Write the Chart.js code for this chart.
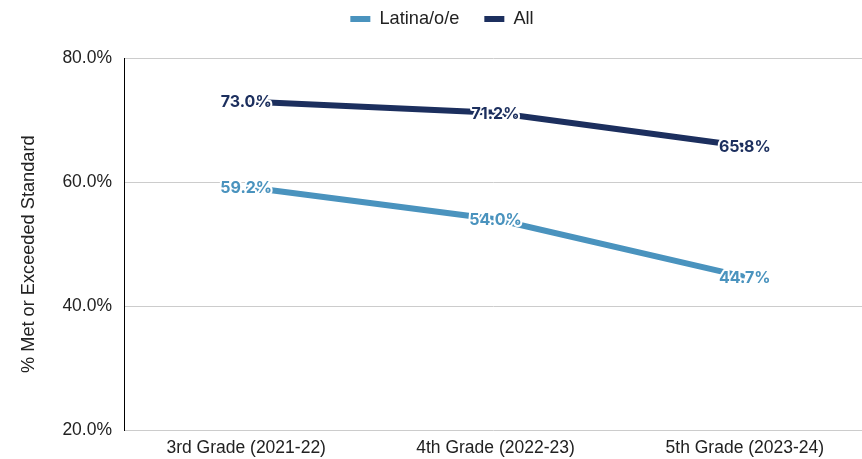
<!DOCTYPE html>
<html>
<head>
<meta charset="utf-8">
<script src="https://cdn.jsdelivr.net/npm/chart.js@4.4.1/dist/chart.umd.min.js"></script>
<style>
  html, body { margin: 0; padding: 0; background: #fff; overflow: hidden; }
  #wrap { width: 862px; height: 459px; }
</style>
</head>
<body>
<div id="wrap"><canvas id="chart-line"></canvas></div>
<script>
const grades = ['3rd Grade (2021-22)', '4th Grade (2022-23)', '5th Grade (2023-24)'];
const latinaValues = [59.2, 54.0, 44.7];
const allValues = [73.0, 71.2, 65.8];
const yTicks = [20, 40, 60, 80];

const axisFont = { family: '"Liberation Sans", Arial, sans-serif', size: 17.5 };

// value labels centred on each point, with a white halo
const valueLabels = {
  id: 'valueLabels',
  afterDatasetsDraw(chart) {
    const ctx = chart.ctx;
    ctx.save();
    ctx.font = 'bold 16px Inter, sans-serif';
    ctx.textAlign = 'center';
    ctx.textBaseline = 'middle';
    chart.data.datasets.forEach((ds, i) => {
      chart.getDatasetMeta(i).data.forEach((pt, j) => {
        const text = ds.data[j].y.toFixed(1) + '%';
        ctx.lineWidth = 4;
        ctx.strokeStyle = '#fff';
        ctx.lineJoin = 'round';
        ctx.strokeText(text, pt.x, pt.y + 1);
        ctx.fillStyle = ds.borderColor;
        ctx.fillText(text, pt.x, pt.y + 1);
      });
    });
    ctx.restore();
  }
};

// extra room under the legend, and nudge it a little right
const legendSpace = {
  id: 'legendSpace',
  beforeInit(chart) {
    const fit = chart.legend.fit;
    chart.legend.fit = function () {
      fit.call(this);
      this.height += 20;
    };
  },
  afterLayout(chart) {
    chart.legend.left += 22;
  }
};

new Chart(document.getElementById('chart-line'), {
  type: 'line',
  data: {
    datasets: [
      {
        label: 'Latina/o/e',
        data: latinaValues.map((v, i) => ({ x: i, y: v })),
        borderColor: '#4a93be',
        backgroundColor: '#4a93be',
        borderWidth: 6,
        pointRadius: 0,
        fill: false
      },
      {
        label: 'All',
        data: allValues.map((v, i) => ({ x: i, y: v })),
        borderColor: '#1c2f5e',
        backgroundColor: '#1c2f5e',
        borderWidth: 6,
        pointRadius: 0,
        fill: false
      }
    ]
  },
  options: {
    responsive: true,
    maintainAspectRatio: false,
    animation: false,
    layout: { padding: { left: 0, right: 0, top: -15, bottom: -8 } },
    plugins: {
      tooltip: { enabled: false },
      legend: {
        position: 'top',
        labels: {
          boxWidth: 20,
          boxHeight: 6,
          padding: 25,
          color: '#222',
          font: { family: axisFont.family, size: 18.2 },
          generateLabels(chart) {
            return Chart.defaults.plugins.legend.labels.generateLabels(chart)
              .map(l => ({ ...l, lineWidth: 0 }));
          }
        }
      }
    },
    scales: {
      x: {
        type: 'linear',
        min: -0.49,
        max: 2.47,
        grid: { display: false, drawTicks: false },
        border: { display: false },
        afterBuildTicks(scale) {
          scale.ticks = grades.map((g, i) => ({ value: i }));
        },
        ticks: {
          padding: 8,
          color: '#222',
          font: axisFont,
          maxRotation: 0,
          callback: (v) => grades[v]
        }
      },
      y: {
        min: 20,
        max: 80,
        afterBuildTicks(scale) {
          scale.ticks = yTicks.map(v => ({ value: v }));
        },
        afterFit(scale) {
          scale.width = 124;
        },
        grid: { color: '#cccccc', lineWidth: 1, drawTicks: false },
        border: { display: true, color: '#000', width: 1 },
        ticks: {
          padding: 12,
          color: '#222',
          font: axisFont,
          callback: (v) => v.toFixed(1) + '%'
        },
        title: {
          display: true,
          text: '% Met or Exceeded Standard    ',
          color: '#222',
          font: { family: axisFont.family, size: 18.2 },
          padding: { top: 18, bottom: 4 }
        }
      }
    }
  },
  plugins: [valueLabels, legendSpace]
});
</script>
</body>
</html>
